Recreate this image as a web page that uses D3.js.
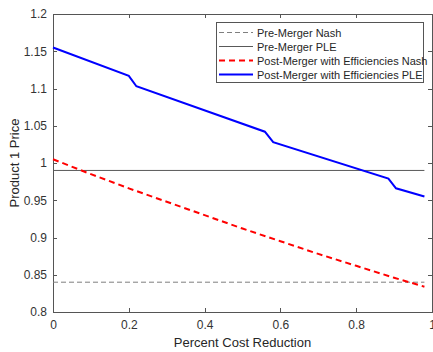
<!DOCTYPE html>
<html lang="en">
  <head>
    <meta charset="utf-8">
    <title>Product 1 Price</title>
  </head>
  <style>
    body { margin: 0; background: #fff; }
    .axis text {
      font-family: "Liberation Sans", Arial, sans-serif;
      font-size: 12px;
      fill: #333;
    }
    .axis path, .axis line {
      stroke: #555;
      shape-rendering: crispEdges;
    }
    .label, .legend text {
      font-family: "Liberation Sans", Arial, sans-serif;
      fill: #262626;
    }
  </style>
  <body>
    <div id="svg-area"></div>
    <script src="https://cdn.jsdelivr.net/npm/d3@7"></script>
    <script>
      const svg_width = 433;
      const svg_height = 352;
      const margin = {left: 53, right: 1, top: 14, bottom: 40};

      // data
      const pre_nash = 0.84;
      const pre_ple = 0.99;
      const post_nash_x = [0, 0.1, 0.2, 0.3, 0.4, 0.5, 0.6, 0.7, 0.8, 0.9, 0.98];
      const post_nash_y = [1.005, 0.985, 0.966, 0.948, 0.930, 0.912, 0.895, 0.878, 0.862, 0.846, 0.834];
      const post_ple_x = [0, 0.2, 0.22, 0.559, 0.581, 0.885, 0.905, 0.98];
      const post_ple_y = [1.155, 1.117, 1.103, 1.042, 1.028, 0.979, 0.966, 0.955];
      const x_ticks = [0, 0.2, 0.4, 0.6, 0.8, 1];
      const y_ticks = [0.8, 0.85, 0.9, 0.95, 1, 1.05, 1.1, 1.15, 1.2];
      const legend_labels = ['Pre-Merger Nash', 'Pre-Merger PLE',
        'Post-Merger with Efficiencies Nash', 'Post-Merger with Efficiencies PLE'];

      const styles = [
        {color: '#7f7f7f', width: 1, dash: '5,3'},
        {color: '#595959', width: 1, dash: null},
        {color: '#ff0000', width: 2, dash: '6,4'},
        {color: '#0000ff', width: 2, dash: null}
      ];

      const svg = d3.select('#svg-area')
        .append('svg')
        .attr('width', svg_width)
        .attr('height', svg_height);

      const x_scale = d3.scaleLinear()
        .domain([0, 1])
        .range([margin.left, svg_width - margin.right]);
      const y_scale = d3.scaleLinear()
        .domain([0.8, 1.2])
        .range([svg_height - margin.bottom, margin.top]);

      const fmt = d => String(d);

      //axes, inward ticks, box
      svg.append('g')
        .attr('class', 'axis')
        .attr('transform', `translate(0,${svg_height - margin.bottom})`)
        .call(d3.axisBottom(x_scale).tickValues(x_ticks).tickFormat(fmt).tickSizeInner(-4).tickSizeOuter(0).tickPadding(8));
      svg.append('g')
        .attr('class', 'axis')
        .attr('transform', `translate(${margin.left},0)`)
        .call(d3.axisLeft(y_scale).tickValues(y_ticks).tickFormat(fmt).tickSizeInner(-4).tickSizeOuter(0).tickPadding(6));
      svg.append('g')
        .attr('class', 'axis')
        .attr('transform', `translate(0,${margin.top})`)
        .call(d3.axisTop(x_scale).tickValues(x_ticks).tickFormat('').tickSizeInner(-4).tickSizeOuter(0));
      svg.append('g')
        .attr('class', 'axis')
        .attr('transform', `translate(${svg_width - margin.right},0)`)
        .call(d3.axisRight(y_scale).tickValues(y_ticks).tickFormat('').tickSizeInner(-4).tickSizeOuter(0));

      const line = d3.line()
        .x(d => x_scale(d[0]))
        .y(d => y_scale(d[1]));

      const series = [
        [[0, pre_nash], [0.98, pre_nash]],
        [[0, pre_ple], [0.98, pre_ple]],
        post_nash_x.map((x, i) => [x, post_nash_y[i]]),
        post_ple_x.map((x, i) => [x, post_ple_y[i]])
      ];

      svg.selectAll('path.series')
        .data(series)
        .enter()
        .append('path')
        .attr('class', 'series')
        .attr('d', line)
        .attr('fill', 'none')
        .attr('stroke', (d, i) => styles[i].color)
        .attr('stroke-width', (d, i) => styles[i].width)
        .attr('stroke-dasharray', (d, i) => styles[i].dash);

      //axis labels
      svg.append('text')
        .attr('class', 'label')
        .attr('x', (margin.left + svg_width - margin.right) / 2)
        .attr('y', svg_height - 5)
        .attr('text-anchor', 'middle')
        .style('font-size', '13px')
        .text('Percent Cost Reduction');
      svg.append('text')
        .attr('class', 'label')
        .attr('transform', `translate(19,${(margin.top + svg_height - margin.bottom) / 2}) rotate(-90)`)
        .attr('text-anchor', 'middle')
        .style('font-size', '13px')
        .text('Product 1 Price');

      //legend
      const legend = svg.append('g').attr('class', 'legend');
      legend.append('rect')
        .attr('x', 216.5)
        .attr('y', 22.5)
        .attr('width', 207)
        .attr('height', 60)
        .attr('fill', '#fff')
        .attr('stroke', '#555')
        .attr('stroke-width', 1);
      const rows = legend.selectAll('g.row')
        .data(legend_labels)
        .enter()
        .append('g')
        .attr('class', 'row')
        .attr('transform', (d, i) => `translate(0,${32.5 + i * 14})`);
      rows.append('line')
        .attr('x1', 219)
        .attr('x2', 253)
        .attr('stroke', (d, i) => styles[i].color)
        .attr('stroke-width', (d, i) => styles[i].width)
        .attr('stroke-dasharray', (d, i) => styles[i].dash);
      rows.append('text')
        .attr('x', 257)
        .attr('y', 4)
        .style('font-size', '11px')
        .text(d => d);
    </script>
  </body>
</html>
